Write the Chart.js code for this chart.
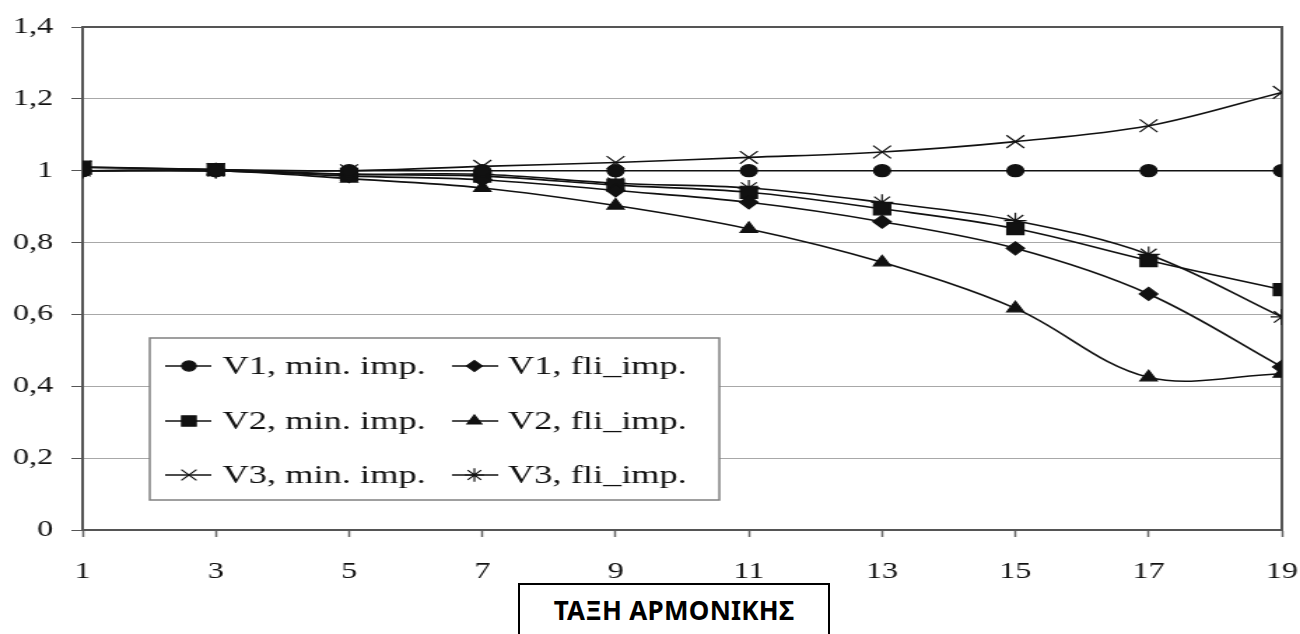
<!DOCTYPE html>
<html>
<head>
<meta charset="utf-8">
<script src="https://cdn.jsdelivr.net/npm/chart.js@4/dist/chart.umd.min.js"></script>
<style>
  html, body { margin: 0; padding: 0; background: #fff; overflow: hidden; }
  #page { position: relative; width: 1300px; height: 634px; }
  /* the source picture is stretched sideways, so the chart is drawn narrow and widened */
  #wrap { position: absolute; left: 0; top: 0; width: 929px; height: 634px; transform: scaleX(1.3994); transform-origin: 0 0; }
  #axis-title {
    position: absolute; left: 518px; top: 583px; width: 312px; height: 60px;
    border: 2px solid #000; border-bottom: none; background: #fff;
    font: bold 26px "Noto Sans", "Open Sans", sans-serif; color: #000; letter-spacing: 0.3px;
    text-align: center; line-height: 32px; padding-top: 9px; box-sizing: border-box;
  }
</style>
</head>
<body>
<div id="page">
  <div id="wrap"><canvas id="chart" width="929" height="634"></canvas></div>
  <div id="axis-title"></div>
</div>
<script>
// Harmonic order (x) and the six voltage curves
const harmonics = [1, 3, 5, 7, 9, 11, 13, 15, 17, 19];
const v1Min = [1.0, 1.0, 1.0, 1.0, 1.0, 1.0, 1.0, 1.0, 1.0, 1.0];
const v1Fli = [1.0, 1.0, 0.985, 0.975, 0.945, 0.912, 0.858, 0.784, 0.657, 0.454];
const v2Min = [1.01, 1.003, 0.99, 0.985, 0.96, 0.94, 0.894, 0.839, 0.75, 0.669];
const v2Fli = [1.0, 1.0, 0.978, 0.952, 0.903, 0.838, 0.745, 0.617, 0.425, 0.435];
const v3Min = [1.01, 1.003, 1.0, 1.012, 1.023, 1.037, 1.052, 1.081, 1.125, 1.218];
const v3Fli = [1.0, 1.0, 0.99, 0.99, 0.965, 0.952, 0.912, 0.861, 0.767, 0.593];

const seriesNames = ['V1, min. imp.', 'V1, fli_imp.', 'V2, min. imp.', 'V2, fli_imp.', 'V3, min. imp.', 'V3, fli_imp.'];
const seriesValues = [v1Min, v1Fli, v2Min, v2Fli, v3Min, v3Fli];

const xTicks = [1, 3, 5, 7, 9, 11, 13, 15, 17, 19];
const yTicks = [0, 0.2, 0.4, 0.6, 0.8, 1.0, 1.2, 1.4];
const xTitle = 'ΤΑΞΗ ΑΡΜΟΝΙΚΗΣ';

document.getElementById('axis-title').textContent = xTitle;

// marker look per series
const markers = [
    { pointStyle: 'circle', radius: 6 },
    { pointStyle: 'rectRot', radius: 6.5 },
    { pointStyle: 'rect', radius: 8.5 },
    { pointStyle: 'triangle', radius: 7 },
    { pointStyle: 'crossRot', radius: 9 },
    { pointStyle: 'star', radius: 8 }
];

const INK = '#111';
const SERIF = '"Liberation Serif", "Times New Roman", serif';

const datasets = seriesNames.map((name, i) => ({
    label: name,
    data: harmonics.map((h, j) => ({ x: h, y: seriesValues[i][j] })),
    borderColor: INK,
    backgroundColor: INK,
    borderWidth: 1.6,
    tension: 0.35,
    pointStyle: markers[i].pointStyle,
    pointRadius: markers[i].radius,
    pointHoverRadius: markers[i].radius,
    pointBorderColor: INK,
    pointBackgroundColor: INK,
    pointBorderWidth: 1.2
}));

// top and right frame of the plot area
const framePlugin = {
    id: 'frame',
    beforeDatasetsDraw(chart) {
        const { ctx, chartArea: a } = chart;
        ctx.save();
        ctx.strokeStyle = '#555';
        ctx.lineWidth = 2;
        ctx.beginPath();
        ctx.moveTo(a.left, a.top);
        ctx.lineTo(a.right, a.top);
        ctx.lineTo(a.right, a.bottom);
        ctx.stroke();
        ctx.restore();
    }
};

// boxed legend inside the plot, two columns by three rows
const legendPlugin = {
    id: 'boxLegend',
    afterDatasetsDraw(chart) {
        const ctx = chart.ctx;
        const box = { left: 107, top: 338, right: 514, bottom: 500 };
        const cols = [{ line0: 118, line1: 151, mark: 135, text: 159 },
                      { line0: 323, line1: 356, mark: 339, text: 363 }];
        const rows = [366, 421, 475];

        ctx.save();
        ctx.fillStyle = '#fff';
        ctx.fillRect(box.left, box.top, box.right - box.left, box.bottom - box.top);
        ctx.strokeStyle = '#808080';
        ctx.lineWidth = 1.5;
        ctx.strokeRect(box.left, box.top, box.right - box.left, box.bottom - box.top);

        ctx.font = '26px ' + SERIF;
        ctx.textBaseline = 'middle';
        seriesNames.forEach((name, i) => {
            const c = cols[i % 2];
            const y = rows[Math.floor(i / 2)];
            ctx.strokeStyle = INK;
            ctx.fillStyle = INK;
            ctx.lineWidth = 1.6;
            ctx.beginPath();
            ctx.moveTo(c.line0, y);
            ctx.lineTo(c.line1, y);
            ctx.stroke();
            if (Chart.helpers && Chart.helpers.drawPoint) {
                ctx.lineWidth = 1.2;
                Chart.helpers.drawPoint(ctx, {
                    pointStyle: markers[i].pointStyle,
                    radius: markers[i].radius * 0.85,
                    rotation: 0,
                    borderWidth: 1.2
                }, c.mark, y);
            }
            ctx.fillStyle = INK;
            ctx.fillText(name, c.text, y + 1);
        });
        ctx.restore();
    }
};

new Chart(document.getElementById('chart'), {
    type: 'line',
    data: { datasets },
    options: {
        responsive: false,
        animation: false,
        events: [],
        layout: { padding: { top: 27, right: 13, bottom: 0, left: 0 } },
        plugins: {
            legend: { display: false },
            tooltip: { enabled: false }
        },
        scales: {
            x: {
                type: 'linear',
                min: 1,
                max: 19,
                afterBuildTicks: axis => { axis.ticks = xTicks.map(v => ({ value: v })); },
                afterFit: axis => {
                    axis.height = 104;
                    axis.paddingLeft = 0;
                    axis.paddingRight = 0;
                },
                grid: { drawOnChartArea: false, drawTicks: true, tickLength: 7, tickColor: '#666', tickWidth: 1.5 },
                border: { display: true, color: '#555', width: 2 },
                ticks: {
                    padding: 21,
                    color: INK,
                    font: { family: SERIF, size: 23 },
                    maxRotation: 0,
                    autoSkip: false
                }
            },
            y: {
                min: 0,
                max: 1.4,
                afterBuildTicks: axis => { axis.ticks = yTicks.map(v => ({ value: v })); },
                afterFit: axis => {
                    axis.width = 59;
                    axis.paddingTop = 0;
                    axis.paddingBottom = 0;
                },
                grid: { color: '#a8a8a8', lineWidth: 1, drawTicks: true, tickLength: 8, tickColor: '#555' },
                border: { display: true, color: '#555', width: 2 },
                ticks: {
                    padding: 13,
                    color: INK,
                    font: { family: SERIF, size: 23 },
                    callback: v => String(+v.toFixed(1)).replace('.', ',')
                }
            }
        }
    },
    plugins: [framePlugin, legendPlugin]
});
</script>
</body>
</html>
